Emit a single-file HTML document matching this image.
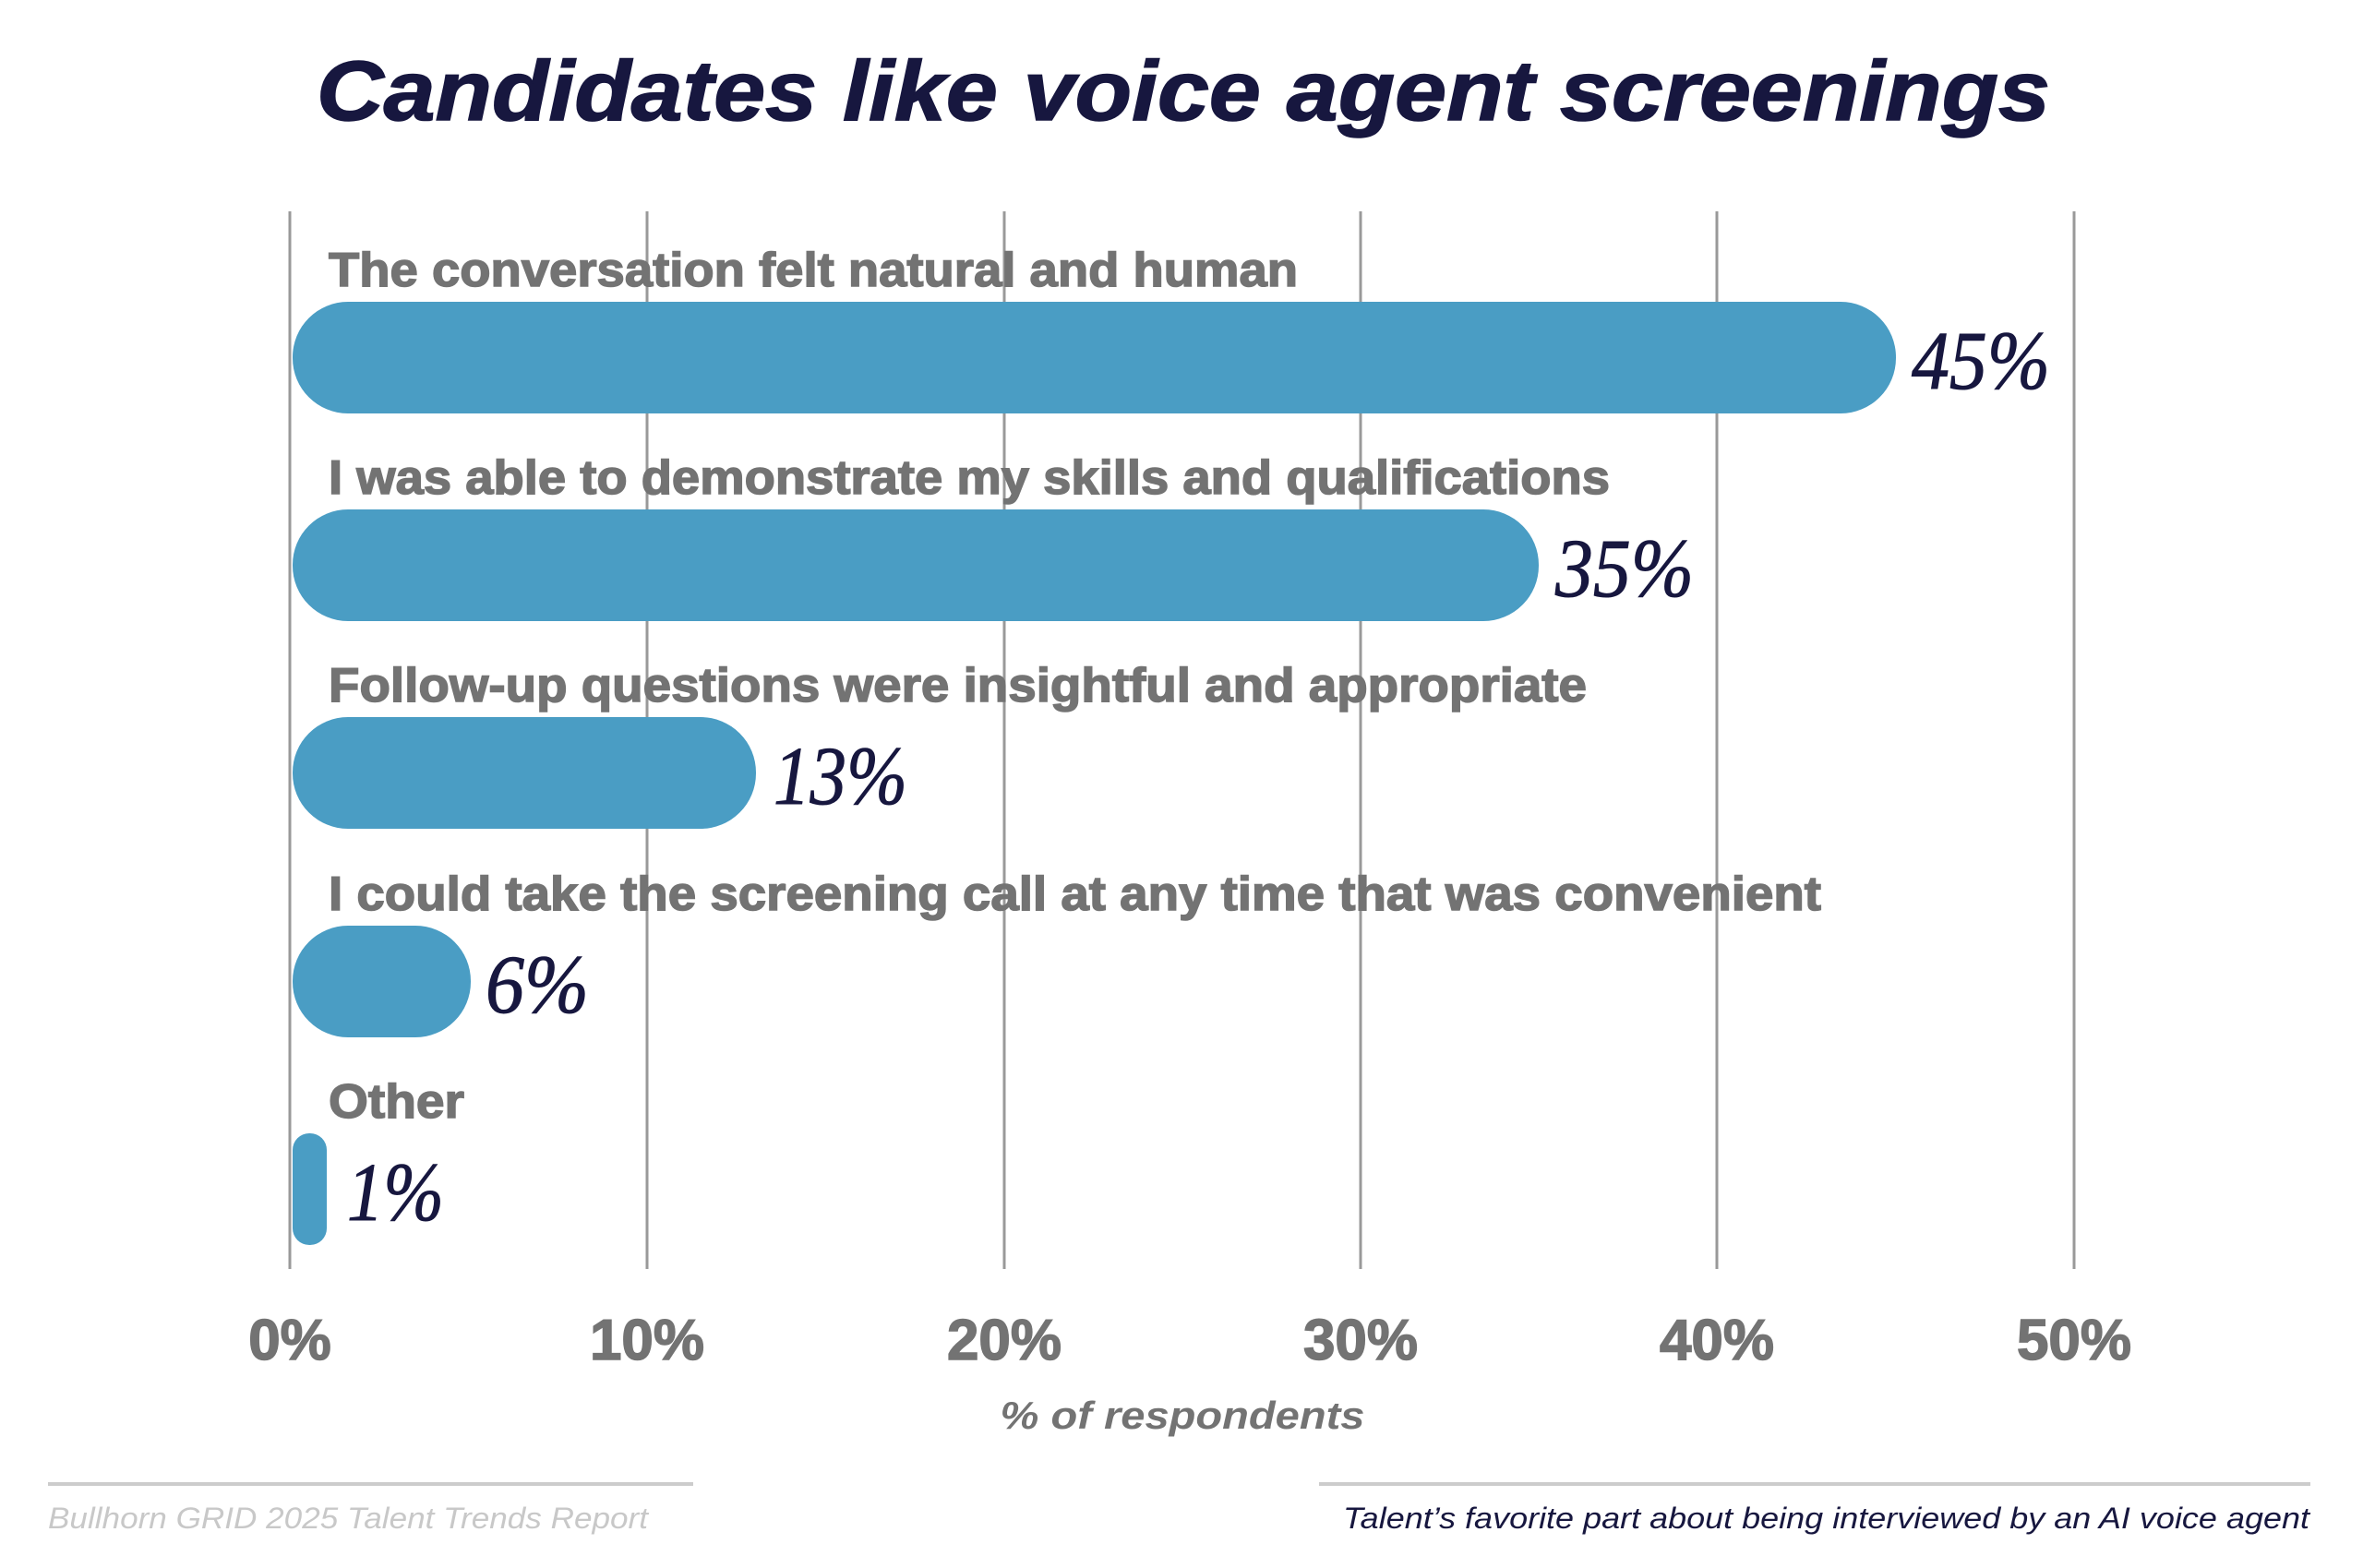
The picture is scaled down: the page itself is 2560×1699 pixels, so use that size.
<!DOCTYPE html>
<html><head><meta charset="utf-8"><style>html,body{margin:0;padding:0;background:#fff}svg{display:block}</style></head>
<body>
<svg width="2560" height="1699" viewBox="0 0 2560 1699" xmlns="http://www.w3.org/2000/svg">
<rect width="2560" height="1699" fill="#fff"/>
<text x="1282" y="130" text-anchor="middle" font-family="Liberation Sans, sans-serif" font-weight="bold" font-style="italic" font-size="92" fill="#17173f" stroke="#17173f" stroke-width="1.5" textLength="1878" lengthAdjust="spacingAndGlyphs">Candidates like voice agent screenings</text>
<g stroke="#999" stroke-width="3">
<line x1="314" y1="229" x2="314" y2="1375"/>
<line x1="701" y1="229" x2="701" y2="1375"/>
<line x1="1088" y1="229" x2="1088" y2="1375"/>
<line x1="1474" y1="229" x2="1474" y2="1375"/>
<line x1="1860" y1="229" x2="1860" y2="1375"/>
<line x1="2247" y1="229" x2="2247" y2="1375"/>
</g>
<g fill="#4a9dc4">
<rect x="317" y="327" width="1737" height="121" rx="60"/>
<rect x="317" y="552" width="1350" height="121" rx="60"/>
<rect x="317" y="777" width="502" height="121" rx="60"/>
<rect x="317" y="1003" width="193" height="121" rx="60"/>
<rect x="317" y="1228" width="37" height="121" rx="18"/>
</g>
<g font-family="Liberation Sans, sans-serif" font-weight="bold" font-size="52" fill="#737373" stroke="#737373" stroke-width="1.5">
<text x="356" y="310" textLength="1050" lengthAdjust="spacingAndGlyphs">The conversation felt natural and human</text>
<text x="356" y="535" textLength="1388" lengthAdjust="spacingAndGlyphs">I was able to demonstrate my skills and qualifications</text>
<text x="356" y="760" textLength="1363" lengthAdjust="spacingAndGlyphs">Follow-up questions were insightful and appropriate</text>
<text x="356" y="986" textLength="1617" lengthAdjust="spacingAndGlyphs">I could take the screening call at any time that was convenient</text>
<text x="356" y="1211" textLength="147" lengthAdjust="spacingAndGlyphs">Other</text>
</g>
<g font-family="Liberation Serif, serif" font-style="italic" font-size="90" fill="#17173f" stroke="#17173f" stroke-width="1">
<text x="2071" y="421" textLength="150" lengthAdjust="spacingAndGlyphs">45%</text>
<text x="1685" y="646" textLength="150" lengthAdjust="spacingAndGlyphs">35%</text>
<text x="838" y="871" textLength="145" lengthAdjust="spacingAndGlyphs">13%</text>
<text x="526" y="1097" textLength="112" lengthAdjust="spacingAndGlyphs">6%</text>
<text x="376" y="1322" textLength="105" lengthAdjust="spacingAndGlyphs">1%</text>
</g>
<g font-family="Liberation Sans, sans-serif" font-weight="bold" font-size="62" fill="#737373" stroke="#737373" stroke-width="1.5" text-anchor="middle">
<text x="314" y="1473">0%</text>
<text x="701" y="1473">10%</text>
<text x="1088" y="1473">20%</text>
<text x="1474" y="1473">30%</text>
<text x="1860" y="1473">40%</text>
<text x="2247" y="1473">50%</text>
</g>
<text x="1281" y="1548" text-anchor="middle" font-family="Liberation Sans, sans-serif" font-weight="bold" font-style="italic" font-size="42" fill="#737373" textLength="395" lengthAdjust="spacingAndGlyphs">% of respondents</text>
<g stroke="#cccccc" stroke-width="4">
<line x1="52" y1="1608" x2="751" y2="1608"/>
<line x1="1429" y1="1608" x2="2503" y2="1608"/>
</g>
<text x="52" y="1656" font-family="Liberation Sans, sans-serif" font-style="italic" font-size="32" fill="#c8c8c8" textLength="650" lengthAdjust="spacingAndGlyphs">Bullhorn GRID 2025 Talent Trends Report</text>
<text x="1455" y="1656" font-family="Liberation Sans, sans-serif" font-style="italic" font-size="32" fill="#17173f" textLength="1047" lengthAdjust="spacingAndGlyphs">Talent’s favorite part about being interviewed by an AI voice agent</text>
</svg>
</body></html>
